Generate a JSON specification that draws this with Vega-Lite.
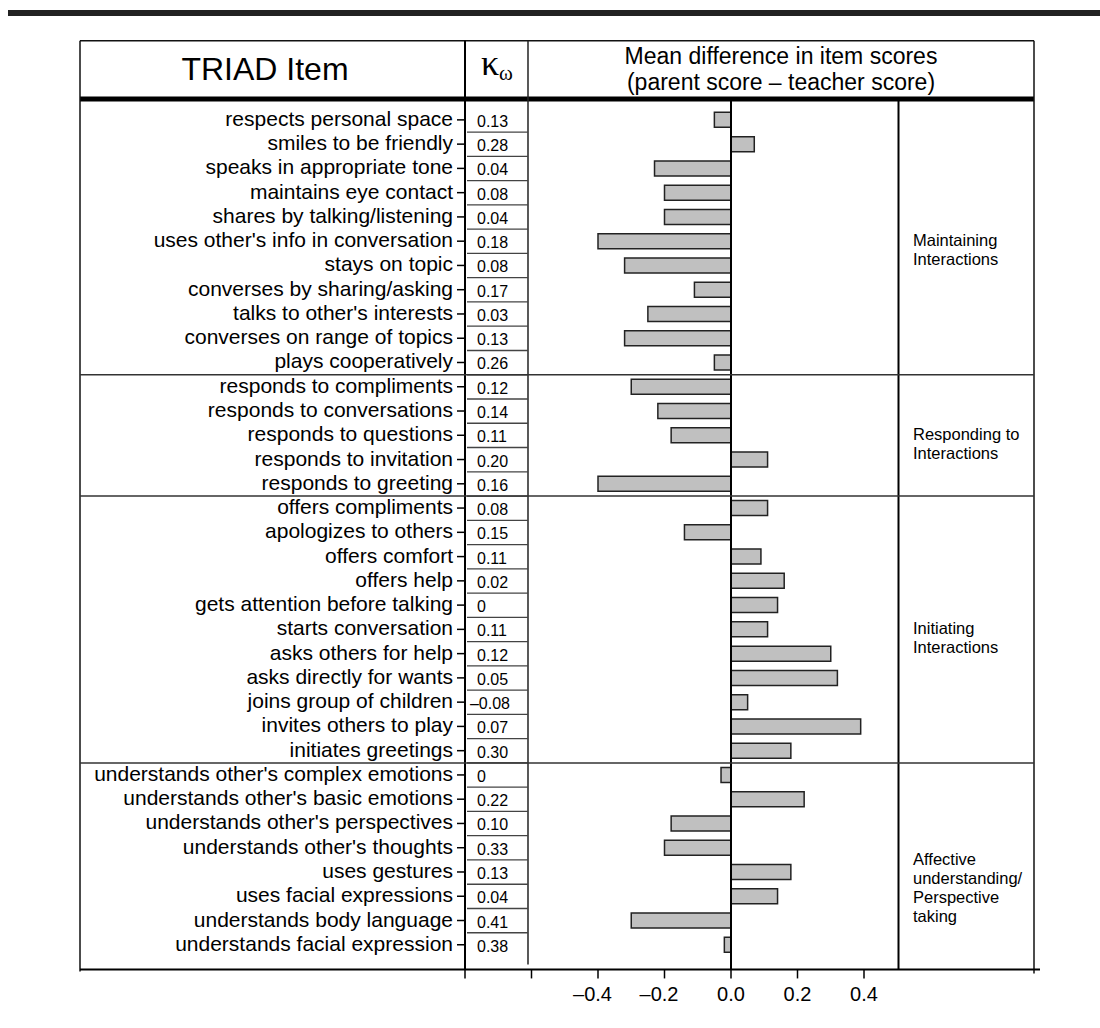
{
  "$schema": "https://vega.github.io/schema/vega-lite/v6.json",
  "width": 1100,
  "height": 1028,
  "padding": 0,
  "autosize": {"type": "none"},
  "background": "white",
  "config": {"view": {"stroke": null}, "axis": {"disable": true}, "font": "Liberation Sans"},
  "datasets": {
    "items": [
      {"n": 1, "item": "respects personal space", "kappa": "0.13", "diff": -0.05, "group": "Maintaining\nInteractions"},
      {"n": 2, "item": "smiles to be friendly", "kappa": "0.28", "diff": 0.07, "group": "Maintaining\nInteractions"},
      {"n": 3, "item": "speaks in appropriate tone", "kappa": "0.04", "diff": -0.23, "group": "Maintaining\nInteractions"},
      {"n": 4, "item": "maintains eye contact", "kappa": "0.08", "diff": -0.20, "group": "Maintaining\nInteractions"},
      {"n": 5, "item": "shares by talking/listening", "kappa": "0.04", "diff": -0.20, "group": "Maintaining\nInteractions"},
      {"n": 6, "item": "uses other's info in conversation", "kappa": "0.18", "diff": -0.40, "group": "Maintaining\nInteractions"},
      {"n": 7, "item": "stays on topic", "kappa": "0.08", "diff": -0.32, "group": "Maintaining\nInteractions"},
      {"n": 8, "item": "converses by sharing/asking", "kappa": "0.17", "diff": -0.11, "group": "Maintaining\nInteractions"},
      {"n": 9, "item": "talks to other's interests", "kappa": "0.03", "diff": -0.25, "group": "Maintaining\nInteractions"},
      {"n": 10, "item": "converses on range of topics", "kappa": "0.13", "diff": -0.32, "group": "Maintaining\nInteractions"},
      {"n": 11, "item": "plays cooperatively", "kappa": "0.26", "diff": -0.05, "group": "Maintaining\nInteractions"},
      {"n": 12, "item": "responds to compliments", "kappa": "0.12", "diff": -0.30, "group": "Responding to\nInteractions"},
      {"n": 13, "item": "responds to conversations", "kappa": "0.14", "diff": -0.22, "group": "Responding to\nInteractions"},
      {"n": 14, "item": "responds to questions", "kappa": "0.11", "diff": -0.18, "group": "Responding to\nInteractions"},
      {"n": 15, "item": "responds to invitation", "kappa": "0.20", "diff": 0.11, "group": "Responding to\nInteractions"},
      {"n": 16, "item": "responds to greeting", "kappa": "0.16", "diff": -0.40, "group": "Responding to\nInteractions"},
      {"n": 17, "item": "offers compliments", "kappa": "0.08", "diff": 0.11, "group": "Initiating\nInteractions"},
      {"n": 18, "item": "apologizes to others", "kappa": "0.15", "diff": -0.14, "group": "Initiating\nInteractions"},
      {"n": 19, "item": "offers comfort", "kappa": "0.11", "diff": 0.09, "group": "Initiating\nInteractions"},
      {"n": 20, "item": "offers help", "kappa": "0.02", "diff": 0.16, "group": "Initiating\nInteractions"},
      {"n": 21, "item": "gets attention before talking", "kappa": "0", "diff": 0.14, "group": "Initiating\nInteractions"},
      {"n": 22, "item": "starts conversation", "kappa": "0.11", "diff": 0.11, "group": "Initiating\nInteractions"},
      {"n": 23, "item": "asks others for help", "kappa": "0.12", "diff": 0.30, "group": "Initiating\nInteractions"},
      {"n": 24, "item": "asks directly for wants", "kappa": "0.05", "diff": 0.32, "group": "Initiating\nInteractions"},
      {"n": 25, "item": "joins group of children", "kappa": "–0.08", "diff": 0.05, "group": "Initiating\nInteractions"},
      {"n": 26, "item": "invites others to play", "kappa": "0.07", "diff": 0.39, "group": "Initiating\nInteractions"},
      {"n": 27, "item": "initiates greetings", "kappa": "0.30", "diff": 0.18, "group": "Initiating\nInteractions"},
      {"n": 28, "item": "understands other's complex emotions", "kappa": "0", "diff": -0.03, "group": "Affective\nunderstanding/\nPerspective\ntaking"},
      {"n": 29, "item": "understands other's basic emotions", "kappa": "0.22", "diff": 0.22, "group": "Affective\nunderstanding/\nPerspective\ntaking"},
      {"n": 30, "item": "understands other's perspectives", "kappa": "0.10", "diff": -0.18, "group": "Affective\nunderstanding/\nPerspective\ntaking"},
      {"n": 31, "item": "understands other's thoughts", "kappa": "0.33", "diff": -0.20, "group": "Affective\nunderstanding/\nPerspective\ntaking"},
      {"n": 32, "item": "uses gestures", "kappa": "0.13", "diff": 0.18, "group": "Affective\nunderstanding/\nPerspective\ntaking"},
      {"n": 33, "item": "uses facial expressions", "kappa": "0.04", "diff": 0.14, "group": "Affective\nunderstanding/\nPerspective\ntaking"},
      {"n": 34, "item": "understands body language", "kappa": "0.41", "diff": -0.30, "group": "Affective\nunderstanding/\nPerspective\ntaking"},
      {"n": 35, "item": "understands facial expression", "kappa": "0.38", "diff": -0.02, "group": "Affective\nunderstanding/\nPerspective\ntaking"}
    ],
    "ticks": [
      {"v": -0.8, "label": ""},
      {"v": -0.6, "label": ""},
      {"v": -0.4, "label": "–0.4"},
      {"v": -0.2, "label": "–0.2"},
      {"v": 0, "label": "0.0"},
      {"v": 0.2, "label": "0.2"},
      {"v": 0.4, "label": "0.4"}
    ]
  },
  "layer": [
    {
      "data": {"name": "items"},
      "mark": {"type": "bar", "size": 15, "fill": "#c0c0c0", "stroke": "#222", "strokeWidth": 1.5},
      "encoding": {
        "x": {"field": "diff", "type": "quantitative", "scale": {"domain": [-2.198496, 1.109774], "nice": false, "zero": false}},
        "x2": {"datum": 0},
        "y": {"field": "n", "type": "quantitative", "scale": {"domain": [-3.73469, 38.22449], "nice": false, "zero": false, "reverse": true}}
      }
    },
    {
      "data": {"values": [{}]},
      "layer": [
        {"mark": {"type": "rule", "stroke": "#222", "strokeWidth": 6},
         "encoding": {"x": {"datum": -2.17444}, "x2": {"datum": 1.10977}, "y": {"datum": -3.4082}}},
        {"mark": {"type": "rule", "stroke": "#111", "strokeWidth": 1.5},
         "encoding": {"x": {"datum": -1.95789}, "x2": {"datum": 0.91128}, "y": {"datum": -2.2653}}},
        {"mark": {"type": "rule", "stroke": "#000", "strokeWidth": 5},
         "encoding": {"x": {"datum": -1.95789}, "x2": {"datum": 0.91128}, "y": {"datum": 0.1429}}},
        {"mark": {"type": "rule", "stroke": "#111", "strokeWidth": 1.5},
         "encoding": {"x": {"datum": -1.95789}, "y": {"datum": -2.2653}, "y2": {"datum": 36.102}}},
        {"mark": {"type": "rule", "stroke": "#000", "strokeWidth": 2},
         "encoding": {"x": {"datum": -0.8}, "y": {"datum": -2.2653}, "y2": {"datum": 36.0204}}},
        {"mark": {"type": "rule", "stroke": "#222", "strokeWidth": 1.5},
         "encoding": {"x": {"datum": -0.61053}, "y": {"datum": -2.2653}, "y2": {"datum": 35.8163}}},
        {"mark": {"type": "rule", "stroke": "#000", "strokeWidth": 2},
         "encoding": {"x": {"datum": 0.50376}, "y": {"datum": 0.1429}, "y2": {"datum": 36.0204}}},
        {"mark": {"type": "rule", "stroke": "#111", "strokeWidth": 1.5},
         "encoding": {"x": {"datum": 0.91128}, "y": {"datum": -2.2653}, "y2": {"datum": 36.1837}}},
        {"mark": {"type": "rule", "stroke": "#000", "strokeWidth": 2},
         "encoding": {"x": {"datum": -1.95789}, "x2": {"datum": 0.92932}, "y": {"datum": 36.0204}}},
        {"mark": {"type": "rule", "stroke": "#000", "strokeWidth": 2},
         "encoding": {"x": {"datum": 0}, "y": {"datum": 0.1837}, "y2": {"datum": 36.0204}}},
        {"mark": {"type": "text", "fontSize": 32, "align": "center", "baseline": "middle", "font": "Liberation Sans", "fill": "#000"},
         "encoding": {"x": {"datum": -1.4015}, "y": {"datum": -1.0408}, "text": {"value": "TRIAD Item"}}},
        {"mark": {"type": "text", "fontSize": 23, "align": "center", "baseline": "middle", "font": "Liberation Sans", "fill": "#000"},
         "encoding": {"x": {"datum": 0.15038}, "y": {"datum": -1.5714}, "text": {"value": "Mean difference in item scores"}}},
        {"mark": {"type": "text", "fontSize": 23, "align": "center", "baseline": "middle", "font": "Liberation Sans", "fill": "#000"},
         "encoding": {"x": {"datum": 0.15038}, "y": {"datum": -0.5102}, "text": {"value": "(parent score – teacher score)"}}},
        {"mark": {"type": "text", "fontSize": 36, "align": "center", "baseline": "middle", "font": "Liberation Serif", "fill": "#000"},
         "encoding": {"x": {"datum": -0.7248}, "y": {"datum": -1.3}, "text": {"value": "κ"}}},
        {"mark": {"type": "text", "fontSize": 21, "align": "center", "baseline": "middle", "font": "Liberation Serif", "fill": "#000"},
         "encoding": {"x": {"datum": -0.67669}, "y": {"datum": -0.9}, "text": {"value": "ω"}}}
      ]
    },
    {
      "data": {"name": "items"},
      "mark": {"type": "text", "align": "right", "baseline": "middle", "fontSize": 21, "font": "Liberation Sans", "fill": "#000"},
      "encoding": {"x": {"datum": -0.83609}, "y": {"field": "n", "type": "quantitative"}, "text": {"field": "item"}}
    },
    {
      "data": {"name": "items"},
      "mark": {"type": "rule", "stroke": "#000", "strokeWidth": 1.5},
      "encoding": {"x": {"datum": -0.82406}, "x2": {"datum": -0.8}, "y": {"field": "n", "type": "quantitative"}}
    },
    {
      "data": {"name": "items"},
      "transform": [{"filter": "datum.n < 35"}],
      "mark": {"type": "rule", "stroke": "#444", "strokeWidth": 1.3, "yOffset": 12.25},
      "encoding": {"x": {"datum": -0.79398}, "x2": {"datum": -0.61053}, "y": {"field": "n", "type": "quantitative"}}
    },
    {
      "data": {"name": "items"},
      "transform": [{"filter": "!test(/^–/, datum.kappa)"}],
      "mark": {"type": "text", "align": "left", "baseline": "middle", "fontSize": 16, "dy": 2, "font": "Liberation Sans", "fill": "#000"},
      "encoding": {"x": {"datum": -0.76391}, "y": {"field": "n", "type": "quantitative"}, "text": {"field": "kappa"}}
    },
    {
      "data": {"name": "items"},
      "transform": [{"filter": "test(/^–/, datum.kappa)"}],
      "mark": {"type": "text", "align": "right", "baseline": "middle", "fontSize": 16, "dy": 2, "font": "Liberation Sans", "fill": "#000"},
      "encoding": {"x": {"datum": -0.66466}, "y": {"field": "n", "type": "quantitative"}, "text": {"field": "kappa"}}
    },
    {
      "data": {"name": "items"},
      "transform": [
        {"aggregate": [{"op": "max", "field": "n", "as": "last"}], "groupby": ["group"]},
        {"filter": "datum.last < 35"}
      ],
      "mark": {"type": "rule", "stroke": "#333", "strokeWidth": 1.5, "yOffset": 12.25},
      "encoding": {"x": {"datum": -1.95789}, "x2": {"datum": 0.91128}, "y": {"field": "last", "type": "quantitative"}}
    },
    {
      "data": {"name": "items"},
      "transform": [
        {"aggregate": [{"op": "mean", "field": "n", "as": "mid"}], "groupby": ["group"]}
      ],
      "mark": {"type": "text", "align": "left", "baseline": "middle", "fontSize": 16.5, "lineHeight": 19, "lineBreak": "\n", "font": "Liberation Sans", "fill": "#000"},
      "encoding": {"x": {"datum": 0.54737}, "y": {"field": "mid", "type": "quantitative"}, "text": {"field": "group"}}
    },
    {
      "data": {"name": "ticks"},
      "mark": {"type": "rule", "stroke": "#000", "strokeWidth": 1.5},
      "encoding": {"x": {"field": "v", "type": "quantitative"}, "y": {"datum": 36.0204}, "y2": {"datum": 36.3878}}
    },
    {
      "data": {"name": "ticks"},
      "transform": [{"filter": "datum.v >= 0"}],
      "mark": {"type": "text", "align": "center", "baseline": "middle", "fontSize": 20, "font": "Liberation Sans", "fill": "#000"},
      "encoding": {"x": {"field": "v", "type": "quantitative"}, "y": {"datum": 37.0816}, "text": {"field": "label"}}
    },
    {
      "data": {"name": "ticks"},
      "transform": [{"filter": "datum.v < 0 && datum.label != ''"}],
      "mark": {"type": "text", "align": "right", "baseline": "middle", "fontSize": 20, "dx": 14, "font": "Liberation Sans", "fill": "#000"},
      "encoding": {"x": {"field": "v", "type": "quantitative"}, "y": {"datum": 37.0816}, "text": {"field": "label"}}
    }
  ]
}
